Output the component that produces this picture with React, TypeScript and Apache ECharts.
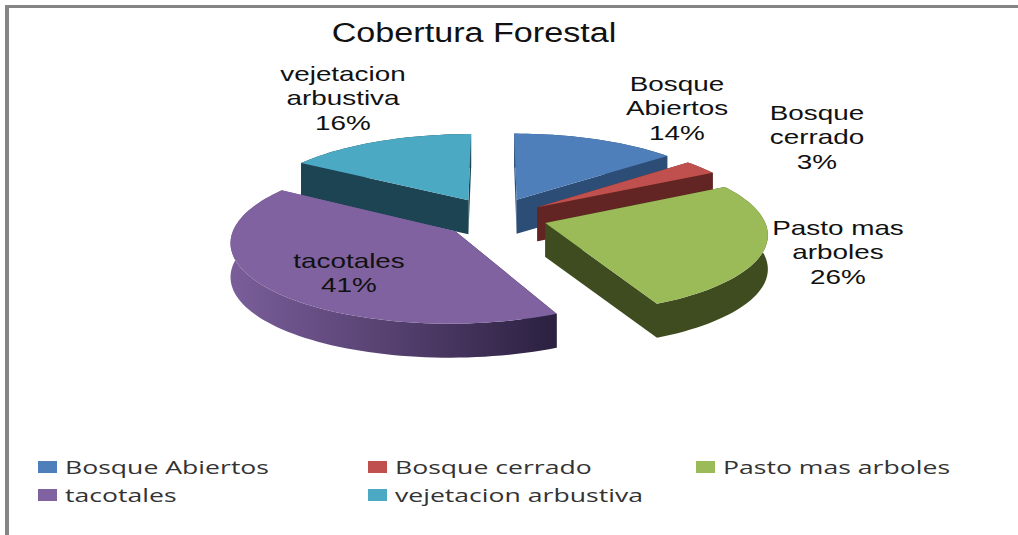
import React, { useEffect, useRef } from "react";
import * as echarts from "echarts";

const titleText = "Cobertura Forestal";
const categories = ["Bosque Abiertos", "Bosque cerrado", "Pasto mas arboles", "tacotales", "vejetacion arbustiva"];
const values = [14, 3, 26, 41, 16];
const labelLines = [
  ["Bosque", "Abiertos", "14%"],
  ["Bosque", "cerrado", "3%"],
  ["Pasto mas", "arboles", "26%"],
  ["tacotales", "41%"],
  ["vejetacion", "arbustiva", "16%"],
];
const topColors = ["#4F7FBA", "#C0504D", "#9BBB59", "#7F629F", "#4BA9C4"];
const wallColors = ["#2C4D75", "#632523", "#3E4C20", "#6E5490", "#1D4453"];
const labelCenters = [[677, 108], [817, 137], [838, 252], [349, 273], [343, 98]];
const legendSwatches = [[38, 461], [368, 461], [696, 461], [38, 489], [368, 489]];
const sliceNudge = [[0, 0], [-1, 1], [-1, 0], [3, 1], [0, 0]];
const drawOrder = [0, 1, 2, 4, 3];

const CX = 494, CY = 217, R = 218, RY = 78, K = 0.12, EX = 0.25, DEPTH = 34;

function project(u: number, v: number, n: number[]): [number, number] {
  const s = 1 / (1 - K * v);
  return [CX + n[0] + R * u * s, CY + n[1] + RY * v * s];
}

function sliceGeometry(i: number) {
  const total = values.reduce((a, b) => a + b, 0);
  const before = values.slice(0, i).reduce((a, b) => a + b, 0);
  const a0 = (before / total) * Math.PI * 2;
  const a1 = ((before + values[i]) / total) * Math.PI * 2;
  const mid = (a0 + a1) / 2;
  const ou = EX * Math.sin(mid);
  const ov = -EX * Math.cos(mid);
  const steps = Math.max(6, Math.round((a1 - a0) * 30));
  const rim: [number, number][] = [];
  for (let k = 0; k <= steps; k++) {
    const a = a0 + ((a1 - a0) * k) / steps;
    rim.push(project(ou + Math.sin(a), ov - Math.cos(a), sliceNudge[i]));
  }
  const apex = project(ou, ov, sliceNudge[i]);
  return { rim, apex };
}

const down = (p: [number, number]): [number, number] => [p[0], p[1] + DEPTH];

function App() {
  const ref = useRef<HTMLDivElement>(null);
  useEffect(() => {
    const chart = echarts.init(ref.current!, null, { renderer: "svg" });
    const series = drawOrder.map((i) => ({
      type: "custom",
      name: categories[i],
      coordinateSystem: "none",
      data: [values[i]],
      itemStyle: { color: topColors[i] },
      silent: true,
      renderItem: () => {
        const { rim, apex } = sliceGeometry(i);
        const wallFill: any =
          i === 3
            ? new echarts.graphic.LinearGradient(0, 0, 1, 0, [
                { offset: 0, color: "#7A5E9A" },
                { offset: 0.5, color: "#55406F" },
                { offset: 1, color: "#2B2040" },
              ])
            : wallColors[i];
        const first = rim[0];
        const last = rim[rim.length - 1];
        const children: any[] = [
          {
            type: "polygon",
            shape: { points: [apex, first, down(first), down(apex)] },
            style: { fill: i === 3 ? "#2B2040" : wallColors[i] },
          },
          {
            type: "polygon",
            shape: { points: [apex, last, down(last), down(apex)] },
            style: { fill: i === 3 ? "#7A5E9A" : wallColors[i] },
          },
          {
            type: "polygon",
            shape: { points: [...rim, ...rim.slice().reverse().map(down)] },
            style: { fill: wallFill },
          },
          {
            type: "polygon",
            shape: { points: [apex, ...rim] },
            style: { fill: topColors[i] },
          },
        ];
        return { type: "group", children };
      },
    }));
    const labels = categories.map((_, i) => ({
      type: "text",
      x: labelCenters[i][0],
      y: labelCenters[i][1],
      scaleX: 1.36,
      z: 100,
      style: {
        text: labelLines[i].join("\n"),
        fill: "#111",
        font: "20.5px 'Liberation Sans'",
        lineHeight: 24.5,
        align: "center",
        verticalAlign: "middle",
      },
    }));
    const legendMarks = categories.flatMap((name, i) => [
      {
        type: "rect",
        z: 100,
        shape: { x: legendSwatches[i][0], y: legendSwatches[i][1], width: 19, height: 12 },
        style: { fill: topColors[i] },
      },
      {
        type: "text",
        z: 100,
        x: legendSwatches[i][0] + 27,
        y: legendSwatches[i][1] + 6,
        scaleX: 1.4,
        style: {
          text: name,
          fill: "#333",
          font: "19px 'Open Sans'",
          align: "left",
          verticalAlign: "middle",
        },
      },
    ]);
    chart.setOption({
      animation: false,
      backgroundColor: "#fff",
      series,
      graphic: [
        { type: "rect", z: 50, shape: { x: 5, y: 5, width: 1013, height: 3 }, style: { fill: "#858585" } },
        { type: "rect", z: 50, shape: { x: 5, y: 5, width: 4, height: 530 }, style: { fill: "#858585" } },
        {
          type: "text",
          z: 100,
          x: 474,
          y: 33,
          scaleX: 1.22,
          style: {
            text: titleText,
            fill: "#111",
            font: "28px 'Liberation Sans'",
            align: "center",
            verticalAlign: "middle",
          },
        },
        ...labels,
        ...legendMarks,
      ],
    });
    return () => chart.dispose();
  }, []);
  return <div ref={ref} style={{ position: "fixed", left: 0, top: 0, width: 1018, height: 535 }} />;
}

export default App;
